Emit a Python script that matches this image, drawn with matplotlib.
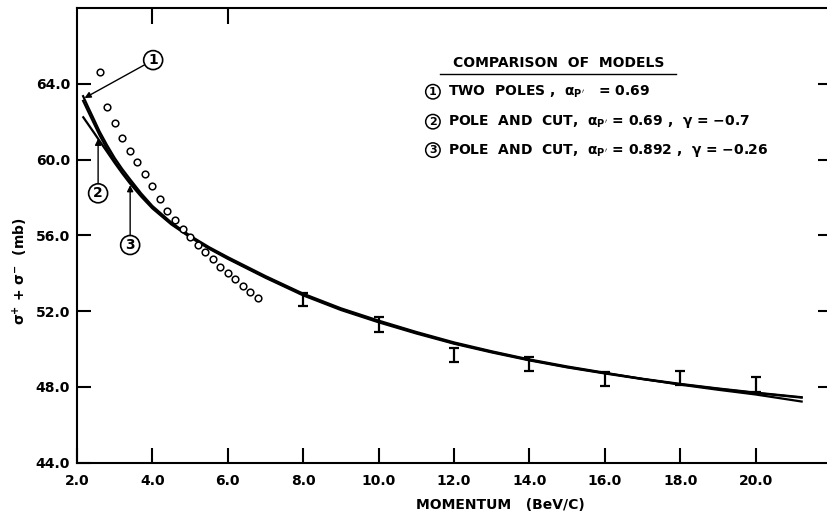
import matplotlib
matplotlib.use('Agg')
import matplotlib.pyplot as plt

# Measured total cross sections (open circles)
mom_x = [2.6, 2.8, 3.0, 3.2, 3.4, 3.6, 3.8, 4.0, 4.2, 4.4, 4.6,
         4.8, 5.0, 5.2, 5.4, 5.6, 5.8, 6.0, 6.2, 6.4, 6.6, 6.8]
sig_pts = [64.6, 62.8, 61.95, 61.12, 60.45, 59.88, 59.24, 58.62, 57.9, 57.3, 56.8,
           56.35, 55.9, 55.5, 55.12, 54.75, 54.35, 54.0, 53.67, 53.35, 53.0, 52.68]

# Points with error bars
eb_x = [8.0, 10.0, 12.0, 14.0, 16.0, 18.0, 20.0]
eb_y = [52.6, 51.3, 49.67, 49.22, 48.43, 48.47, 48.14]
eb_err = [0.35, 0.38, 0.37, 0.38, 0.37, 0.37, 0.40]

# Model curves
curve_x = [2.15, 2.3, 2.45, 2.6, 2.8, 3.0, 3.2, 3.4, 3.7, 4.0, 4.5, 5.0, 5.5, 6.0,
           7.0, 8.0, 9.0, 10.0, 11.0, 12.0, 13.0, 14.0, 15.0, 16.0, 17.0, 18.0,
           19.0, 20.0, 21.25]
two_poles = [63.40, 62.75, 62.12, 61.48, 60.75, 60.08, 59.50, 58.98, 58.22, 57.55,
             56.68, 55.98, 55.38, 54.85, 53.85, 52.92, 52.15, 51.50, 50.90, 50.35,
             49.88, 49.45, 49.08, 48.75, 48.42, 48.12, 47.85, 47.60, 47.22]
pole_cut_a = [62.28, 61.85, 61.42, 60.98, 60.40, 59.82, 59.27, 58.75, 58.05, 57.42,
              56.58, 55.90, 55.30, 54.76, 53.76, 52.83, 52.06, 51.41, 50.82, 50.28,
              49.82, 49.40, 49.03, 48.71, 48.41, 48.14, 47.90, 47.68, 47.43]
pole_cut_b = [63.15, 62.52, 61.90, 61.28, 60.55, 59.90, 59.33, 58.82, 58.12, 57.48,
              56.62, 55.93, 55.33, 54.80, 53.80, 52.87, 52.10, 51.45, 50.86, 50.31,
              49.85, 49.42, 49.05, 48.73, 48.43, 48.16, 47.92, 47.70, 47.45]

x_ticks = [2, 4, 6, 8, 10, 12, 14, 16, 18, 20]
x_labels = ['2.0', '4.0', '6.0', '8.0', '10.0', '12.0', '14.0', '16.0', '18.0', '20.0']
y_ticks = [44, 48, 52, 56, 60, 64]
y_labels = ['44.0', '48.0', '52.0', '56.0', '60.0', '64.0']

legend_lines = [
    ('1', r"TWO  POLES ,  $\alpha_{P'}$   = 0.69"),
    ('2', r"POLE  AND  CUT,  $\alpha_{P'}$ = 0.69 ,  $\gamma$ = $-$0.7"),
    ('3', r"POLE  AND  CUT,  $\alpha_{P'}$ = 0.892 ,  $\gamma$ = $-$0.26"),
]

plt.rcParams['font.family'] = ['DejaVu Sans']
plt.rcParams['font.weight'] = 'bold'
plt.rcParams['mathtext.default'] = 'bf'

fig = plt.figure(figsize=(8.28, 5.14), dpi=100)
ax = fig.add_axes([77 / 828, 1 - 462.7 / 514, 751 / 828, 454.7 / 514])

# curves
for ys in (two_poles, pole_cut_a, pole_cut_b):
    ax.plot(curve_x, ys, color='black', lw=1.6, solid_capstyle='butt')

# data
ax.plot(mom_x, sig_pts, 'o', ms=4.8, mfc='white', mec='black', mew=1.1)
ax.errorbar(eb_x, eb_y, yerr=eb_err, fmt='none', ecolor='black',
            elinewidth=1.6, capsize=3.6, capthick=1.6)

ax.set_xlim(2.0, 21.92)
ax.set_ylim(44.0, 68.0)

ax.set_xticks(x_ticks)
ax.set_xticklabels(x_labels, fontsize=10, fontweight='bold')
ax.set_yticks(y_ticks)
ax.set_yticklabels(y_labels, fontsize=10, fontweight='bold')
ax.tick_params(axis='x', direction='in', length=10.5, width=1.5, pad=8)
ax.tick_params(axis='y', direction='in', length=10, width=1.5, pad=5)

for s in ('left', 'bottom', 'top'):
    ax.spines[s].set_linewidth(1.5)
ax.spines['right'].set_visible(False)

# few ticks on top and right edges
top = ax.secondary_xaxis('top')
top.set_xticks([4, 6])
top.set_xticklabels([])
top.tick_params(direction='in', length=11.5, width=1.5)
top.spines['top'].set_visible(False)

right = ax.secondary_yaxis('right')
right.set_yticks([48, 52, 56, 60, 64])
right.set_yticklabels([])
right.tick_params(direction='in', length=7, width=1.5)
right.spines['right'].set_visible(False)

# callouts
circ = dict(boxstyle='circle,pad=0.18', fc='white', ec='black', lw=1.2)
arr = dict(arrowstyle='-|>', color='black', lw=1.0, shrinkA=0, shrinkB=0,
           mutation_scale=9)
ax.annotate('1', xy=(2.2, 63.25), xytext=(4.02, 65.25), ha='center', va='center',
            fontsize=10, bbox=circ, arrowprops=arr)
ax.annotate('2', xy=(2.56, 61.1), xytext=(2.56, 58.22), ha='center', va='center',
            fontsize=10, bbox=circ, arrowprops=arr)
ax.annotate('3', xy=(3.41, 58.65), xytext=(3.41, 55.49), ha='center', va='center',
            fontsize=10, bbox=circ, arrowprops=arr)

# legend block
title = ax.text(11.97, 65.08, 'COMPARISON  OF  MODELS', fontsize=10,
                fontweight='bold', va='center', ha='left')
small = dict(boxstyle='circle,pad=0.2', fc='white', ec='black', lw=1.1)
for i, (num, txt) in enumerate(legend_lines):
    yy = [63.58, 62.0, 60.5][i]
    ax.text(11.44, yy, num, fontsize=8, ha='center', va='center', bbox=small)
    ax.text(11.85, yy, txt, fontsize=10, ha='left', va='center')

fig.canvas.draw()
bb = title.get_window_extent().transformed(ax.transAxes.inverted())
ax.plot([bb.x0 - 0.017, bb.x1 + 0.016], [bb.y0 - 0.008, bb.y0 - 0.008],
        color='black', lw=1.0, transform=ax.transAxes)

fig.text(500 / 828, 1 - 505 / 514, 'MOMENTUM   (BeV/C)', ha='center', va='center',
         fontsize=10, fontweight='bold')
fig.text(20 / 828, 1 - 271 / 514, r'$\sigma^{+}$ + $\sigma^{-}$  (mb)',
         rotation=90, ha='center', va='center', fontsize=10, fontweight='bold')

fig.savefig('out.png', dpi=100, facecolor='white')
